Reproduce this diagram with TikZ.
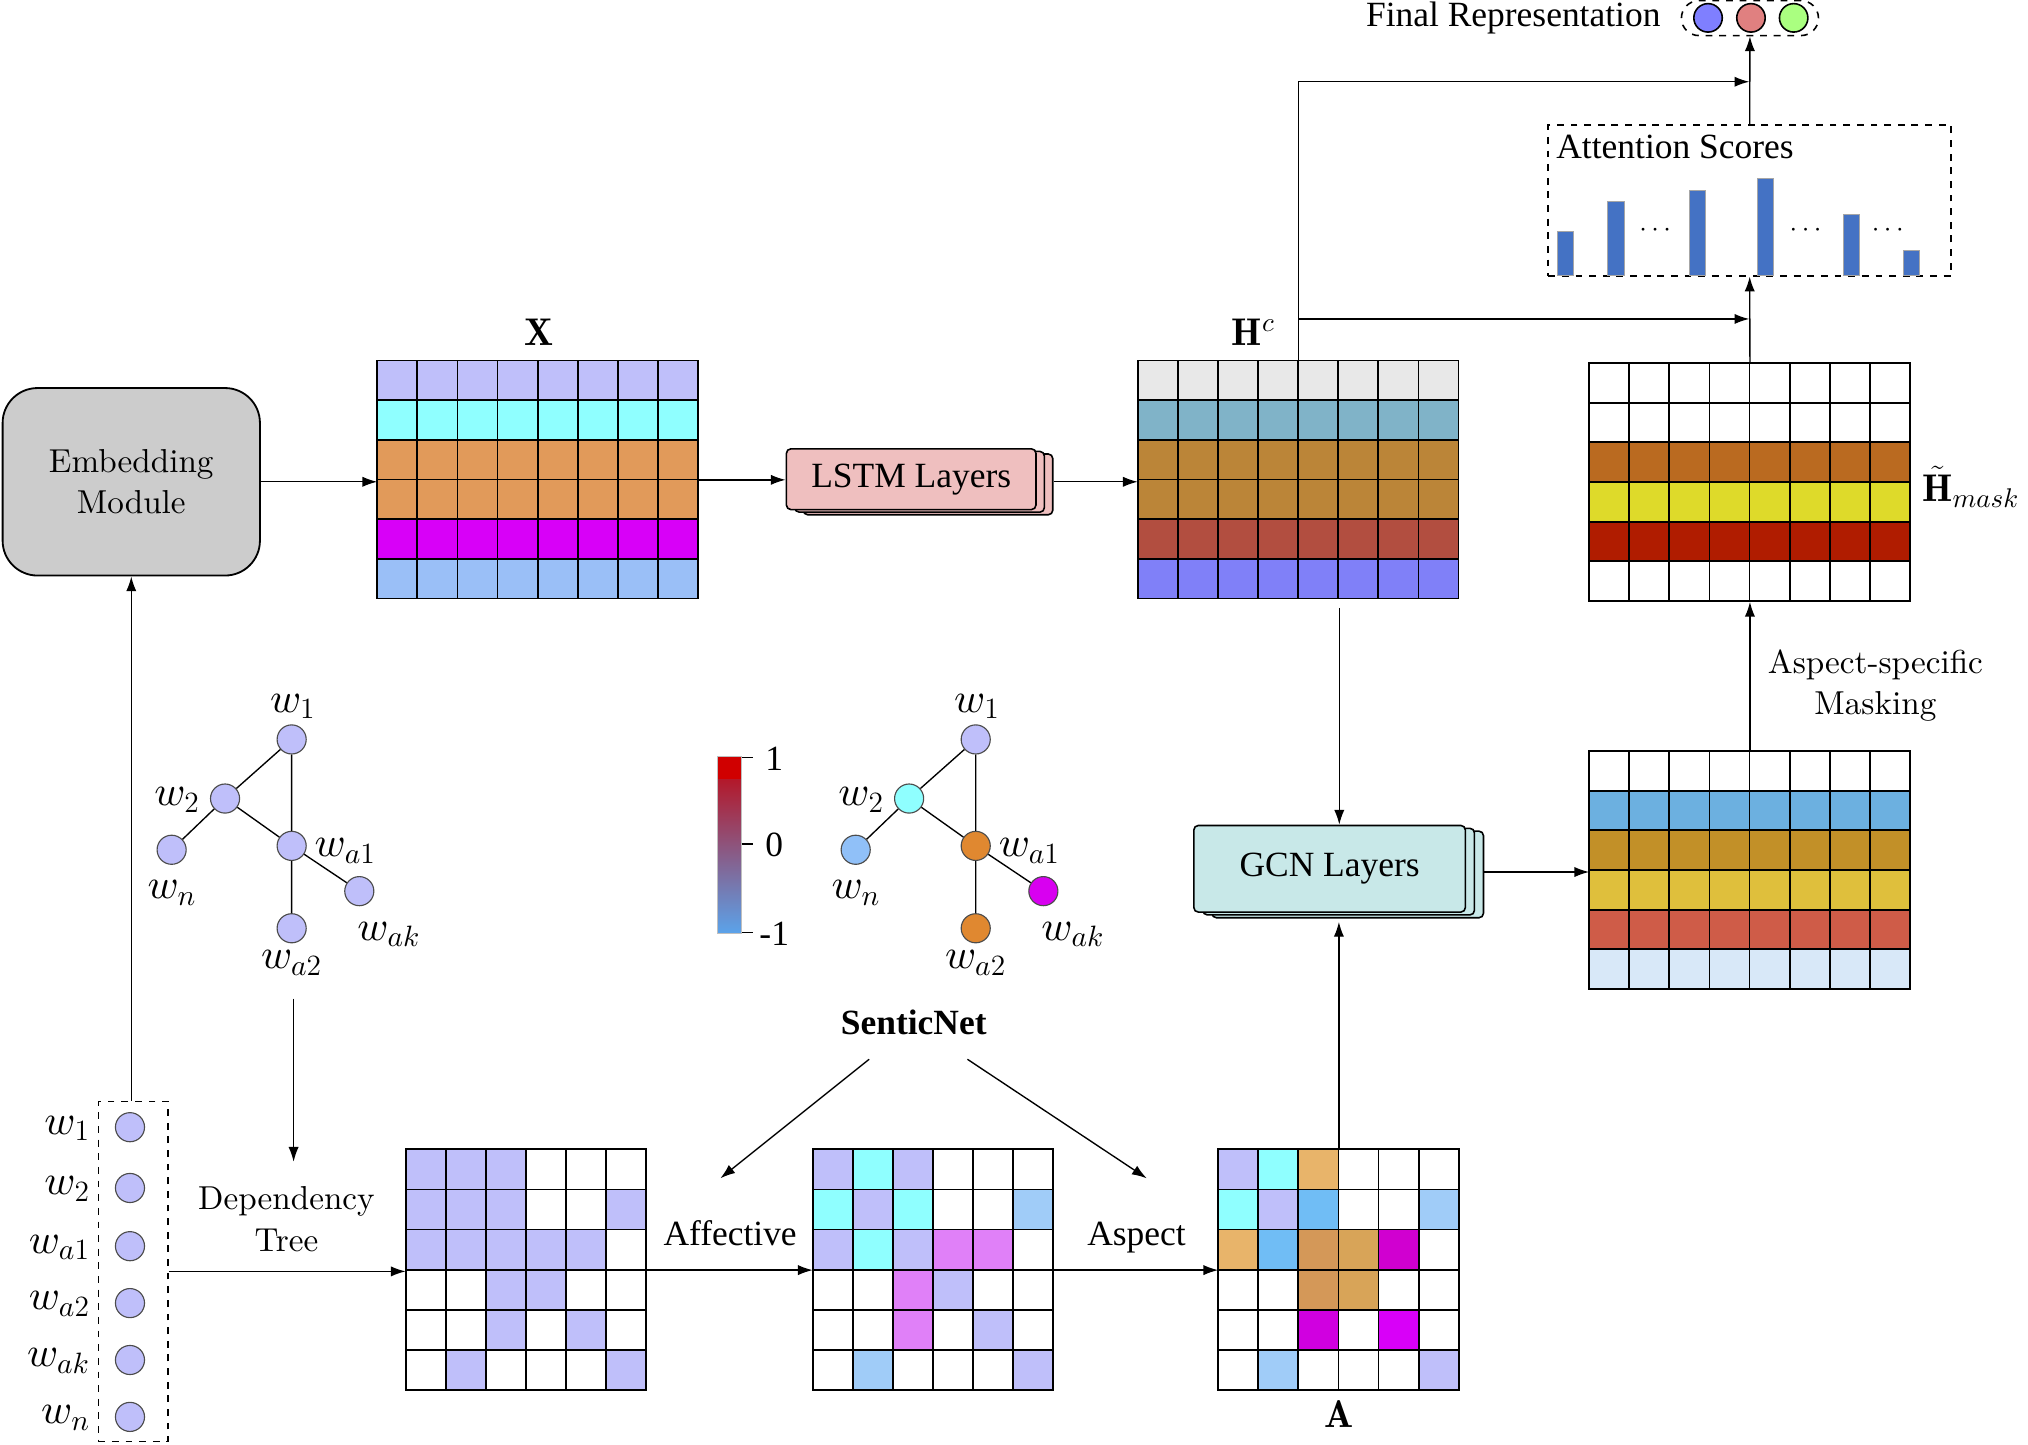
\RequirePackage{fix-cm}
\documentclass[tikz,border=0pt]{standalone}
\usepackage{amsmath}
\usepackage{fontspec}
\newfontfamily\timesf{Liberation Serif}
\newfontfamily\lmten{lmroman10-regular.otf}
\DeclareFontFamily{OML}{cmm}{\skewchar\font'177}
\DeclareFontShape{OML}{cmm}{m}{it}{<->cmmi10}{}
\usetikzlibrary{arrows.meta,calc,positioning,shadows}

\definecolor{lav}{HTML}{BFBFFA}
\definecolor{cya}{HTML}{8FFFFF}
\definecolor{xora}{HTML}{E19A5A}
\definecolor{xmag}{HTML}{D800F8}
\definecolor{xblu}{HTML}{9ABFF7}
\definecolor{hgry}{HTML}{E8E8E8}
\definecolor{hteal}{HTML}{80B3C8}
\definecolor{hbrn}{HTML}{BB8538}
\definecolor{hred}{HTML}{B24E40}
\definecolor{hblu}{HTML}{8080F8}
\definecolor{mora}{HTML}{BA6A20}
\definecolor{myel}{HTML}{DEDA2A}
\definecolor{mred}{HTML}{B01C00}
\definecolor{lblu}{HTML}{6CB0E0}
\definecolor{lgld}{HTML}{C29028}
\definecolor{lyel}{HTML}{DFBF3C}
\definecolor{lred}{HTML}{CF5C48}
\definecolor{lpal}{HTML}{D8E8F8}
\definecolor{sky}{HTML}{A0CCF8}
\definecolor{amag}{HTML}{E080F8}
\definecolor{aora}{HTML}{E8B46A}
\definecolor{ablu}{HTML}{70BDF5}
\definecolor{abrn}{HTML}{D49858}
\definecolor{atan}{HTML}{D8A458}
\definecolor{amgA}{HTML}{D000D0}
\definecolor{amgB}{HTML}{D000E0}
\definecolor{amgC}{HTML}{D800F8}
\definecolor{embgray}{HTML}{CCCCCC}
\definecolor{lstmpink}{HTML}{EFBFBF}
\definecolor{gcncyan}{HTML}{C8E8E8}
\definecolor{barblue}{HTML}{4472C4}
\definecolor{gora}{HTML}{E08830}
\definecolor{gsky}{HTML}{90C0F8}
\definecolor{gmag}{HTML}{D800F0}
\definecolor{fblue}{HTML}{7F7FFF}
\definecolor{fred}{HTML}{E08080}
\definecolor{fgreen}{HTML}{AAFF80}
\definecolor{cbtop}{HTML}{D00000}
\definecolor{cbhi}{HTML}{B3192B}
\definecolor{cbmid}{HTML}{6B5577}
\definecolor{cblo}{HTML}{5BA3EA}

\newcommand{\rowmat}[2]{%
  \foreach \cl [count=\ri from 0] in {#2}
    \foreach \ci in {0,...,7}
      \draw[cell,fill=\cl] ($(#1.north west)+(\ci*31,\ri*184/6)$) rectangle ++(31,184/6);
}
\newcommand{\gridmat}[2]{%
  \foreach \rw [count=\ri from 0] in {#2}
    \foreach \cl [count=\ci from 0] in \rw
      \draw[cell,fill=\cl] ($(#1.north west)+(\ci*31,\ri*31)$) rectangle ++(31,31);
}
\newcommand{\wgraph}[7]{%
  \node[gnode,fill=#2] (#1w1) at (225.5,571.7) {};
  \node[gnode,fill=#3] (#1w2) at (174,617.4) {};
  \node[gnode,fill=#4] (#1wn) at (132.7,657) {};
  \node[gnode,fill=#5] (#1wa1) at (225.5,654) {};
  \node[gnode,fill=#6] (#1wak) at (277.8,689) {};
  \node[gnode,fill=#7] (#1wa2) at (225.5,717.7) {};
  \draw[gline] (#1w1) -- (#1w2) (#1w1) -- (#1wa1) (#1w2) -- (#1wn)
    (#1w2) -- (#1wa1) (#1wa1) -- (#1wak) (#1wa1) -- (#1wa2);
  \node[wlab,anchor=base] (#1l1) at (226.5,551) {$w_1$};
  \node[wlab,anchor=base east] (#1l2) at (155,623) {$w_2$};
  \node[wlab,anchor=base] (#1l3) at (133,695) {$w_n$};
  \node[wlab,anchor=base west] (#1l4) at (243,662.4) {$w_{a1}$};
  \node[wlab,anchor=base west] (#1l5) at (276,727) {$w_{ak}$};
  \node[wlab,anchor=base] (#1l6) at (225.5,749) {$w_{a2}$};
}

\begin{document}
\begin{tikzpicture}[x=0.02cm,y=-0.02cm,
  arr/.style={-{Latex[length=6.5pt,width=4.5pt]},line width=0.6pt},
  cell/.style={draw=black,line width=0.8pt},
  matnode/.style={inner sep=0,minimum width=4.96cm,minimum height=3.68cm},
  sqnode/.style={inner sep=0,minimum size=3.72cm},
  tnr/.style={font=\timesf\fontsize{15.6}{18.7}\selectfont,inner sep=0},
  lmt/.style={font=\lmten\fontsize{14.6}{18.2}\selectfont,align=center,inner sep=0},
  mlab/.style={font=\fontsize{17}{20}\selectfont,inner sep=0},
  wlab/.style={font=\fontsize{18.5}{22}\selectfont,inner sep=0},
  gnode/.style={circle,draw=black!70,line width=0.5pt,minimum size=0.45cm,inner sep=0},
  gline/.style={line width=0.6pt},
  dbox/.style={draw,dashed,line width=0.7pt,inner sep=0},
  bar/.style={fill=barblue,draw=gray!70,line width=0.4pt}]
  \useasboundingbox (0,0) rectangle (1568,1117);

  \node[draw,line width=0.8pt,fill=embgray,rounded corners=0.54cm,minimum width=3.98cm,minimum height=2.9cm,lmt] (emb) at (101.5,372.5) {Embedding\\Module};

  \node[matnode] (X) at (416,371) {};
  \rowmat{X}{lav,cya,xora,xora,xmag,xblu}
  \node[mlab,anchor=base] (xlab) at (417,267) {$\mathbf{X}$};

  \node[tnr,draw,line width=0.7pt,fill=lstmpink,rounded corners=2pt,minimum width=3.86cm,minimum height=0.94cm,
    copy shadow={shadow xshift=0.26cm,shadow yshift=-0.08cm,fill=lstmpink,draw=black},
    copy shadow={shadow xshift=0.13cm,shadow yshift=-0.04cm,fill=lstmpink,draw=black}] (lstm) at (704.5,370.5) {LSTM Layers};

  \node[matnode] (Hc) at (1004,371) {};
  \rowmat{Hc}{hgry,hteal,hbrn,hbrn,hred,hblu}
  \node[mlab,anchor=base west] (hclab) at (952,267) {$\mathbf{H}^c$};

  \node[matnode] (Hm) at (1353,373) {};
  \rowmat{Hm}{white,white,mora,myel,mred,white}
  \node[mlab,anchor=base west] (hmlab) at (1486,388) {$\tilde{\mathbf{H}}_{mask}$};

  \node[matnode] (Hl) at (1353,673) {};
  \rowmat{Hl}{white,lblu,lgld,lyel,lred,lpal}
  \node[lmt] (mask) at (1450,530) {Aspect-specific\\Masking};

  \node[tnr,draw,line width=0.7pt,fill=gcncyan,rounded corners=2pt,minimum width=4.2cm,minimum height=1.34cm,
    copy shadow={shadow xshift=0.28cm,shadow yshift=-0.088cm,fill=gcncyan,draw=black},
    copy shadow={shadow xshift=0.14cm,shadow yshift=-0.044cm,fill=gcncyan,draw=black}] (gcn) at (1028,671.7) {GCN Layers};

  \node[dbox,minimum width=6.23cm,minimum height=2.33cm] (att) at (1352.8,155) {};
  \node[tnr,anchor=base west] (atttxt) at (1203,122.4) {Attention Scores};
  \foreach \bx/\by in {1210.6/179,1249.5/156,1312.2/147.4,1365/137.9,1431.3/165.5,1478/193.3}
    \draw[bar] (\bx-6.3,\by) rectangle (\bx+6.3,212.6);
  \foreach \dx [count=\i] in {1281.5,1397.8,1461.3}
    \node[font=\fontsize{12}{14}\selectfont,inner sep=0] (dots\i) at (\dx,178) {$\cdots$};

  \node[dbox,rounded corners=0.27cm,minimum width=2.12cm,minimum height=0.54cm] (final) at (1353,14) {};
  \foreach \fx/\fc [count=\i] in {1320.6/fblue,1353.8/fred,1386.8/fgreen}
    \node[circle,draw=black,line width=0.7pt,fill=\fc,minimum size=0.44cm,inner sep=0] (f\i) at (\fx,13.8) {};
  \node[tnr,anchor=base] (ftxt) at (1170,20.6) {Final Representation};

  \coordinate (j1) at (1352.5,63.2);
  \coordinate (j2) at (1352.5,246.6);
  \coordinate (lout) at ($(lstm.east)+(13,2)$);
  \coordinate (gout) at ($(gcn.east)+(14,2.5)$);
  \coordinate (gin) at ($(gcn.south)+(0,7)$);
  \coordinate (hcout) at (1035.5,470);
  \draw[arr] (att.north) -- (final.south);
  \draw[arr] (Hc.north) |- (j1);
  \draw[arr] (Hc.north |- j2) -- (j2);
  \draw[arr] (Hm.north) -- (att.south);
  \draw[arr] (emb.east) -- (emb.east -| X.west);
  \draw[arr] (X.east) -- (X.east -| lstm.west);
  \draw[arr] (lout) -- (lout -| Hc.west);
  \draw[arr] (hcout) -- (hcout |- gcn.north);
  \draw[arr] (gout) -- (gout -| Hl.west);
  \draw[arr] (Hl.north) -- (Hm.south);

  \node[dbox,minimum width=1.08cm,minimum height=5.26cm] (wbox) at (103,983) {};
  \foreach \wy/\wl [count=\i] in {871.5/w_1,918.5/w_2,963.5/w_{a1},1007.5/w_{a2},1051.5/w_{ak},1095.5/w_n} {
    \node[gnode,fill=lav] (c\i) at (100.5,\wy) {};
    \node[wlab,anchor=base east] (cl\i) at (70,\wy+5.3) {$\wl$};
  }
  \draw[arr] (wbox.north -| emb.south) -- (emb.south);

  \wgraph{d}{lav}{lav}{lav}{lav}{lav}{lav}
  \begin{scope}[xshift=10.58cm]
    \wgraph{s}{lav}{cya}{gsky}{gora}{gmag}{gora}
  \end{scope}

  \fill[cbtop] (554.6,584.6) rectangle (573.4,602.7);
  \shade[top color=cbhi,middle color=cbmid,bottom color=cblo] (554.6,602.7) rectangle (573.4,721.5);
  \draw[gray!50,line width=0.5pt] (554.6,584.6) rectangle (573.4,721.5);
  \foreach \ty/\tl [count=\i] in {585.5/1,652.5/0,720.8/-1} {
    \draw[line width=0.6pt] (573.4,\ty) -- (582.4,\ty);
    \node[tnr] (cb\i) at (598.6,\ty+1) {\tl};
  }

  \coordinate (treeout) at (227,772);
  \node[lmt] (dep) at (221.5,942.6) {Dependency\\Tree};
  \coordinate (tin) at ($(dep.north)+(0,-19)$);
  \draw[arr] (treeout) -- (treeout |- tin);

  \node[sqnode] (M1) at (407,982) {};
  \gridmat{M1}{{lav,lav,lav,white,white,white},{lav,lav,lav,white,white,lav},{lav,lav,lav,lav,lav,white},{white,white,lav,lav,white,white},{white,white,lav,white,lav,white},{white,lav,white,white,white,lav}}
  \node[sqnode] (M2) at (721.7,982) {};
  \gridmat{M2}{{lav,cya,lav,white,white,white},{cya,lav,cya,white,white,sky},{lav,cya,lav,amag,amag,white},{white,white,amag,lav,white,white},{white,white,amag,white,lav,white},{white,sky,white,white,white,lav}}
  \node[sqnode] (A) at (1035.2,982) {};
  \gridmat{A}{{lav,cya,aora,white,white,white},{cya,lav,ablu,white,white,sky},{aora,ablu,abrn,atan,amgA,white},{white,white,abrn,atan,white,white},{white,white,amgB,white,amgC,white},{white,sky,white,white,white,lav}}
  \node[mlab,anchor=base] (alab) at (1035,1104) {$\mathbf{A}$};

  \draw[arr] (wbox.east) -- (wbox.east -| M1.west);
  \draw[arr] (M1.east) -- (M2.west);
  \draw[arr] (M2.east) -- (A.west);
  \draw[arr] (A.north) -- (A.north |- gin);
  \node[tnr,anchor=base] (aff) at (564.5,962.6) {Affective};
  \node[tnr,anchor=base] (asp) at (878.7,962.6) {Aspect};

  \node[tnr,font=\timesf\bfseries\fontsize{15.6}{18.7}\selectfont,anchor=base] (sentic) at (706.5,799.5) {SenticNet};
  \coordinate (s1) at (672,819);
  \coordinate (s2) at (748,819);
  \coordinate (e1) at (557,911);
  \coordinate (e2) at (886.6,911);
  \draw[arr] (s1) -- (e1);
  \draw[arr] (s2) -- (e2);
\end{tikzpicture}
\end{document}
